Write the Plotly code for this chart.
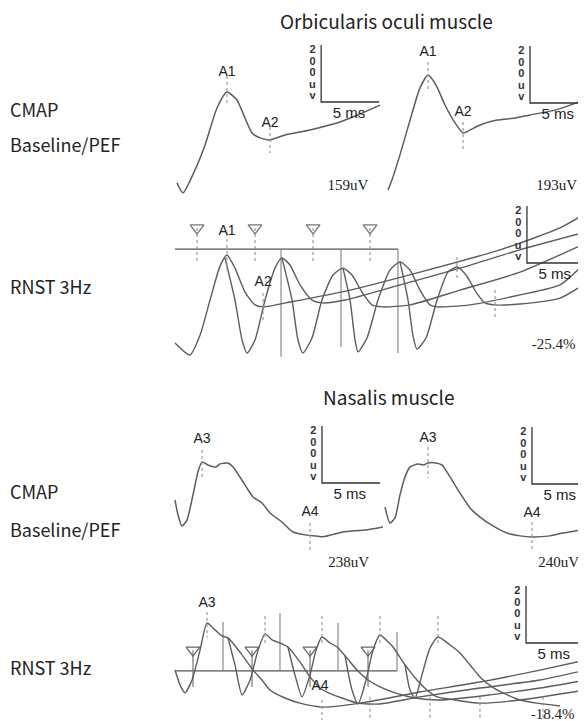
import plotly.graph_objects as go

PX_PER_MS = 11.6          # horizontal scale: 5 ms bar = 58 px
PX_PER_UV = 57 / 200      # vertical scale: 200 uV bar = 57 px
PAGE_W, PAGE_H = 586, 721
OFF = 8                   # browser default body margin
W, H = PAGE_W - OFF, PAGE_H - OFF

# ---------------- data (time in ms, amplitude in uV) ----------------
# Orbicularis oculi - CMAP baseline
OC_BASE_T = [0.17, 0.69, 1.72, 2.59, 3.62, 4.48, 5.34, 6.03, 6.64, 7.33, 8.19, 9.48, 11.64, 14.22, 15.95, 17.67]
OC_BASE_UV = [-284, -319, -239, -151, -21, 35, 7, -56, -109, -126, -133, -116, -98, -70, -42, -11]
# Orbicularis oculi - CMAP post-exercise
OC_PEF_T = [0.69, 1.03, 1.72, 2.59, 3.45, 4.14, 4.83, 5.60, 6.47, 7.16, 7.76, 8.62, 10.09, 11.64, 12.93, 15.09, 16.64, 17.76]
OC_PEF_UV = [-305, -270, -182, -60, 53, 98, 63, -7, -70, -105, -95, -77, -60, -53, -42, -25, -4, 14]

# Orbicularis oculi - RNST 3 Hz (5 superimposed, staggered responses)
OC_RNST_T = [
    [0, 1.29, 2.16, 3.02, 3.88, 4.48, 5.17, 6.03, 6.90, 7.59, 9.91, 15.09, 21.12, 28.02, 33.19, 35.43],
    [4.31, 5.17, 5.78, 6.21, 6.90, 7.76, 8.62, 9.22, 9.91, 10.78, 11.81, 12.76, 14.66, 19.40, 24.57, 29.74, 35.43],
    [9.22, 10.09, 10.60, 11.03, 11.81, 12.67, 13.62, 14.48, 15.26, 16.12, 16.98, 17.93, 20.26, 24.57, 29.74, 35.43],
    [14.48, 15.09, 15.52, 15.78, 16.55, 17.50, 18.53, 19.40, 20.26, 21.12, 21.98, 22.59, 25.43, 29.74, 33.19, 35.43],
    [19.40, 20.09, 20.52, 20.86, 21.64, 22.59, 23.53, 24.31, 25.09, 25.95, 26.72, 27.59, 29.74, 33.19, 35.43],
]
OC_RNST_UV = [
    [-281, -323, -253, -130, -11, 28, -18, -102, -147, -154, -137, -95, -32, 46, 123, 175],
    [18, -130, -270, -316, -270, -130, -18, 18, -7, -77, -130, -140, -130, -77, -18, 46, 109],
    [18, -130, -270, -316, -263, -130, -42, -18, -42, -102, -147, -154, -147, -95, -32, 70],
    [-18, -130, -270, -312, -263, -130, -25, 4, -25, -95, -147, -154, -147, -112, -77, 4],
    [4, -130, -256, -302, -263, -130, -32, -14, -42, -102, -140, -147, -144, -123, -70],
]
OC_STIM_T = [1.90, 6.90, 11.90, 16.81]
OC_REF_T = [9.14, 14.31, 19.22]
OC_REF_BOT = [-330, -295, -316]

# Nasalis - CMAP baseline
NA_BASE_T = [0, 0.26, 0.60, 1.03, 1.55, 1.98, 2.33, 2.84, 3.53, 3.88, 4.57, 5.0, 5.60, 6.21, 6.72, 7.50, 8.19, 9.22, 10.17, 11.21, 12.16, 12.76, 14.48, 16.38, 18.36]
NA_BASE_UV = [-60, -112, -151, -130, -42, 39, 74, 63, 56, 67, 70, 56, 21, -18, -49, -70, -105, -137, -172, -182, -186, -189, -172, -165, -151]
# Nasalis - CMAP post-exercise
NA_PEF_T = [0.43, 0.86, 1.29, 1.72, 2.16, 2.59, 3.28, 3.79, 4.14, 4.83, 5.34, 6.03, 6.90, 7.76, 8.62, 9.74, 10.95, 12.07, 13.10, 14.66, 15.78, 16.81, 17.76]
NA_PEF_UV = [-81, -137, -119, -39, 25, 60, 70, 67, 74, 74, 67, 25, -32, -84, -116, -147, -172, -182, -186, -182, -172, -165, -154]

# Nasalis - RNST 3 Hz
NA_RNST_T = [
    [0, 0.43, 0.86, 1.47, 2.16, 2.76, 3.45, 4.05, 4.57, 5.60, 6.72, 7.50, 8.19, 9.48, 10.78, 12.76, 15.95, 21.12, 26.29, 31.47, 35.43],
    [4.57, 5.17, 5.78, 6.47, 7.16, 7.76, 8.36, 9.05, 9.74, 10.78, 11.64, 12.50, 13.10, 14.40, 15.78, 17.67, 21.12, 26.29, 31.47, 35.43],
    [9.74, 10.34, 10.95, 11.64, 12.16, 12.67, 13.36, 13.97, 14.83, 15.69, 16.64, 17.67, 18.97, 20.69, 22.84, 27.16, 31.47, 35.43],
    [14.66, 15.26, 15.78, 16.47, 17.07, 17.67, 18.36, 18.79, 19.83, 20.86, 21.72, 22.59, 24.14, 26.29, 29.74, 35.43],
    [19.83, 20.26, 20.69, 21.29, 21.98, 22.67, 23.71, 24.57, 25.43, 26.29, 27.33, 28.28, 29.74, 31.21, 33.19],
]
NA_RNST_UV = [
    [-95, -147, -175, -130, -25, 70, 46, 25, 18, -32, -95, -130, -165, -193, -211, -225, -211, -172, -137, -95, -60],
    [18, -77, -182, -130, -25, 32, 11, 0, -14, -67, -119, -158, -172, -193, -211, -214, -189, -158, -130, -95],
    [-14, -112, -189, -112, -25, 21, 0, -14, -53, -95, -130, -154, -175, -193, -200, -182, -158, -130],
    [-46, -165, -214, -130, -25, 28, 4, -14, -77, -130, -165, -189, -200, -211, -200, -165],
    [-77, -165, -193, -112, -18, 21, -7, -35, -77, -119, -154, -175, -200, -211, -221],
]
NA_STIM_T = [1.55, 6.64, 11.64, 16.64]
NA_REF_T = [4.14, 9.05, 14.05, 19.14]
NA_REF_TOP = [74, 105, 70, 39]

# marker annotations: (label, time ms, top uV, bottom uV)
OC_BASE_MARKS = [("A1", 4.48, 91, -11), ("A2", 8.19, -88, -179)]
OC_PEF_MARKS = [("A1", 4.14, 144, 46), ("A2", 7.16, -67, -165)]
NA_BASE_MARKS = [("A3", 2.33, 116, 21), ("A4", 11.64, -140, -235)]
NA_PEF_MARKS = [("A3", 4.14, 130, 21), ("A4", 13.10, -133, -232)]
OC_RNST_MARKS = [("A1", 4.48, 105, -25), ("A2", 7.59, -105, -200)]
OC_RNST_EXTRA_T = [24.31, 27.59]
OC_RNST_EXTRA_TOP = [21, -95]
OC_RNST_EXTRA_BOT = [-60, -193]
NA_RNST_MARKS = [("A3", 2.76, 109, 18), ("A4", 12.67, -200, -270)]
NA_RNST_UP_T = [7.76, 12.67, 17.67, 22.67]
NA_RNST_LOW_T = [16.81, 21.98, 26.29, 31.72]

AMPLITUDES = ["159uV", "193uV", "-25.4%", "238uV", "240uV", "-18.4%"]
SCALE_LETTERS = ["2", "0", "0", "u", "v"]
ROW_LABELS = ["CMAP", "Baseline/PEF", "RNST 3Hz"]
TITLES = ["Orbicularis oculi muscle", "Nasalis muscle"]

# ---------------- layout of panels (page pixel boxes) ----------------
PANELS = {
    # name: (left, right, top, bottom) px, origin (x0, y0) px, scale-bar x (ms)
    "oc_base": ((170, 383, 40, 200), (175, 102), 12.60),
    "oc_pef": ((383, 586, 40, 200), (380, 103), 12.93),
    "oc_rnst": ((170, 586, 200, 365), (175, 263), 30.34),
    "na_base": ((170, 383, 410, 575), (175, 483), 12.67),
    "na_pef": ((383, 586, 410, 575), (380, 484), 13.10),
    "na_rnst": ((170, 586, 575, 721), (175, 643), 30.26),
}


def fx(px):
    return (px - OFF) / W


def fy(py):
    return 1 - (py - OFF) / H


TRACE_COLOR = "#5c5c5c"
MARK_COLOR = "#9a9a9a"
SANS = "Liberation Sans, Arial, sans-serif"
SERIF = "Liberation Serif, Times New Roman, serif"
KR = "Noto Sans CJK KR, Noto Sans, sans-serif"

fig = go.Figure()
layout = dict(width=W, height=H, margin=dict(l=0, r=0, t=0, b=0),
              paper_bgcolor="white", plot_bgcolor="rgba(0,0,0,0)", showlegend=False)
AX = {}
for i, (name, ((l, r, t, b), (x0, y0), _)) in enumerate(PANELS.items(), start=1):
    sx = "" if i == 1 else str(i)
    layout["xaxis" + sx] = dict(domain=[fx(l), min(1, fx(r))], range=[(l - x0) / PX_PER_MS, (min(r, OFF + W) - x0) / PX_PER_MS],
                                visible=False, anchor="y" + sx, fixedrange=True)
    layout["yaxis" + sx] = dict(domain=[max(0, fy(b)), fy(t)], range=[(y0 - min(b, OFF + H)) / PX_PER_UV, (y0 - t) / PX_PER_UV],
                                visible=False, anchor="x" + sx, fixedrange=True)
    AX[name] = ("x" + sx, "y" + sx)


def line(panel, x, y, color=TRACE_COLOR, width=1.5, smooth=True, dash=None):
    xa, ya = AX[panel]
    fig.add_trace(go.Scatter(x=x, y=y, xaxis=xa, yaxis=ya, mode="lines", hoverinfo="skip",
                             line=dict(color=color, width=width, dash=dash,
                                       shape="spline" if smooth else "linear",
                                       smoothing=0.6 if smooth else None)))


def text(panel, x, y, s, size=14, family=SANS, color="#222", bold=False):
    xa, ya = AX[panel]
    fig.add_trace(go.Scatter(x=x, y=y, xaxis=xa, yaxis=ya, mode="text", text=s, hoverinfo="skip",
                             cliponaxis=False, textposition="middle center",
                             textfont=dict(size=size, family=family, color=color,
                                           weight="bold" if bold else "normal")))


def segments(panel, xs, tops, bots, color=MARK_COLOR, width=1.2, dash="dot"):
    X, Y = [], []
    for x, t, b in zip(xs, tops, bots):
        X += [x, x, None]
        Y += [t, b, None]
    line(panel, X, Y, color=color, width=width, smooth=False, dash=dash)


def scale_bar(panel, amp_label, amp_y):
    sx = PANELS[panel][2]
    line(panel, [sx, sx, sx + 5], [200, 0, 0], color="#333", width=1.3, smooth=False)
    n = len(SCALE_LETTERS)
    text(panel, [sx - 0.75] * n, [200 - (k + 0.5) * 200 / n for k in range(n)], SCALE_LETTERS,
         size=11, bold=True, color="#333")
    text(panel, [sx + 2.4], [-42], ["5 ms"], size=15, color="#222")
    text(panel, [sx + 2.3], [amp_y], [amp_label], size=15, family=SERIF, color="#222")


def marks(panel, mk, label_dy=14):
    segments(panel, [m[1] for m in mk], [m[2] for m in mk], [m[3] for m in mk])
    text(panel, [m[1] for m in mk], [m[2] + label_dy for m in mk], [m[0] for m in mk], size=14)


# ----- CMAP panels -----
line("oc_base", OC_BASE_T, OC_BASE_UV)
marks("oc_base", OC_BASE_MARKS, label_dy=14)
scale_bar("oc_base", AMPLITUDES[0], -295)

line("oc_pef", OC_PEF_T, OC_PEF_UV)
marks("oc_pef", OC_PEF_MARKS, label_dy=32)
scale_bar("oc_pef", AMPLITUDES[1], -291)

line("na_base", NA_BASE_T, NA_BASE_UV)
marks("na_base", NA_BASE_MARKS, label_dy=35)
scale_bar("na_base", AMPLITUDES[3], -281)

line("na_pef", NA_PEF_T, NA_PEF_UV)
marks("na_pef", NA_PEF_MARKS, label_dy=28)
scale_bar("na_pef", AMPLITUDES[4], -277)

# ----- RNST oculi -----
line("oc_rnst", [0, OC_REF_T[-1]], [49, 49], color="#555", width=1.3, smooth=False)
segments("oc_rnst", OC_REF_T, [49] * len(OC_REF_T), OC_REF_BOT, color="#808080", width=1.1, dash=None)
segments("oc_rnst", OC_STIM_T, [123] * 4, [4] * 4, color=MARK_COLOR, dash="dot")
xa, ya = AX["oc_rnst"]
fig.add_trace(go.Scatter(x=OC_STIM_T, y=[123] * 4, xaxis=xa, yaxis=ya, mode="markers", hoverinfo="skip",
                         marker=dict(symbol="triangle-down-open", size=12, color="#777", line=dict(width=1.3))))
for t_, uv_ in zip(OC_RNST_T, OC_RNST_UV):
    line("oc_rnst", t_, uv_, width=1.4)
segments("oc_rnst", [m[1] for m in OC_RNST_MARKS] + OC_RNST_EXTRA_T,
         [m[2] for m in OC_RNST_MARKS] + OC_RNST_EXTRA_TOP,
         [m[3] for m in OC_RNST_MARKS] + OC_RNST_EXTRA_BOT)
text("oc_rnst", [4.48, 7.6], [109, -67], ["A1", "A2"], size=14)
scale_bar("oc_rnst", AMPLITUDES[2], -288)

# ----- RNST nasalis -----
line("na_rnst", [0, NA_REF_T[-1]], [-98, -98], color="#555", width=1.3, smooth=False)
segments("na_rnst", NA_REF_T, NA_REF_TOP, [-98] * len(NA_REF_T), color="#808080", width=1.1, dash=None)
segments("na_rnst", NA_STIM_T, [-25] * 4, [-154] * 4, color="#777", width=1.2, dash=None)
xa, ya = AX["na_rnst"]
fig.add_trace(go.Scatter(x=NA_STIM_T, y=[-25] * 4, xaxis=xa, yaxis=ya, mode="markers", hoverinfo="skip",
                         marker=dict(symbol="triangle-down-open", size=12, color="#666", line=dict(width=1.3))))
for t_, uv_ in zip(NA_RNST_T, NA_RNST_UV):
    line("na_rnst", t_, uv_, width=1.4)
segments("na_rnst", [m[1] for m in NA_RNST_MARKS], [m[2] for m in NA_RNST_MARKS], [m[3] for m in NA_RNST_MARKS])
segments("na_rnst", NA_RNST_UP_T, [95] * 4, [0] * 4)
segments("na_rnst", NA_RNST_LOW_T, [-189] * 4, [-263] * 4)
text("na_rnst", [2.76, 12.5], [140, -151], ["A3", "A4"], size=14)
scale_bar("na_rnst", AMPLITUDES[5], -253)

# ----- outer text -----
ann = []
ann.append(dict(x=fx(386), y=fy(20), text=TITLES[0], font_size=19))
ann.append(dict(x=fx(388), y=fy(396), text=TITLES[1], font_size=19))
for lab, yy in [(ROW_LABELS[0], 109), (ROW_LABELS[1], 144), (ROW_LABELS[2], 286),
                (ROW_LABELS[0], 491), (ROW_LABELS[1], 529), (ROW_LABELS[2], 667)]:
    ann.append(dict(x=fx(8), y=fy(yy), text=lab, xanchor="left", font_size=18))
for a in ann:
    fs = a.pop("font_size")
    a.update(xref="paper", yref="paper", showarrow=False, yanchor="middle",
             font=dict(family=KR, size=fs, color="#222"))
    a.setdefault("xanchor", "center")
layout["annotations"] = ann

fig.update_layout(**layout)
fig.write_html("out.html")
